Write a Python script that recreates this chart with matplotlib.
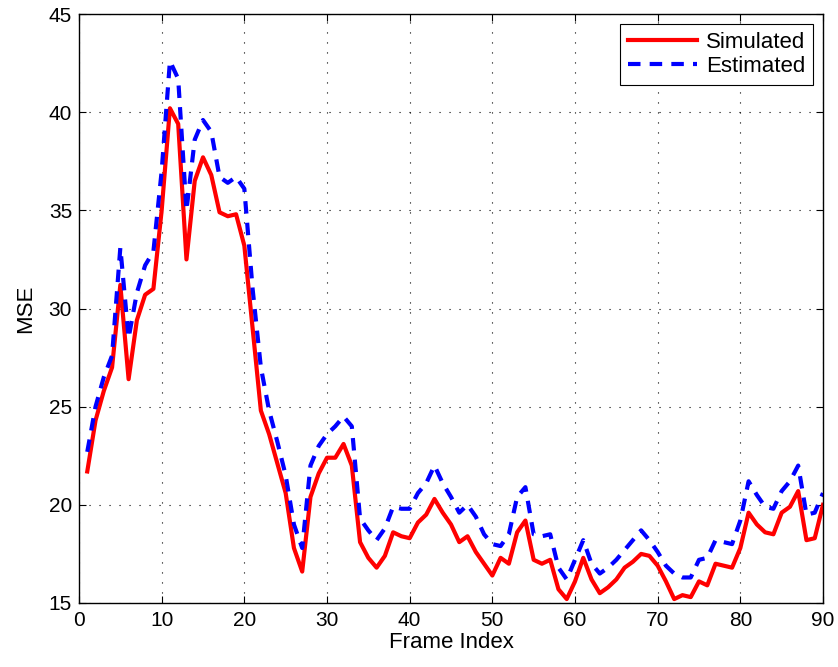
import numpy as np
import matplotlib
matplotlib.use("Agg")
import matplotlib.pyplot as plt

plt.rcParams['font.family'] = ['Liberation Sans', 'DejaVu Sans']

# frame indices
frames = np.arange(1, 91)

# simulated MSE per frame
simulated = [21.7, 24.3, 25.8, 27.0, 31.2, 26.4, 29.4, 30.7, 31.0, 35.0,
             40.2, 39.4, 32.5, 36.5, 37.7, 36.8, 34.9, 34.7, 34.8, 33.2,
             29.0, 24.8, 23.6, 22.1, 20.6, 17.8, 16.6, 20.4, 21.6, 22.4,
             22.4, 23.1, 22.0, 18.1, 17.3, 16.8, 17.4, 18.6, 18.4, 18.3,
             19.1, 19.5, 20.3, 19.6, 19.0, 18.1, 18.4, 17.6, 17.0, 16.4,
             17.3, 17.0, 18.6, 19.2, 17.2, 17.0, 17.2, 15.7, 15.2, 16.1,
             17.3, 16.2, 15.5, 15.8, 16.2, 16.8, 17.1, 17.5, 17.4, 16.9,
             16.1, 15.2, 15.4, 15.3, 16.1, 15.9, 17.0, 16.9, 16.8, 17.8,
             19.6, 19.0, 18.6, 18.5, 19.6, 19.9, 20.7, 18.2, 18.3, 20.0]

# estimated MSE per frame
estimated = [22.7, 25.0, 26.5, 27.6, 33.1, 28.5, 30.8, 32.2, 32.9, 37.0,
             42.6, 41.7, 35.0, 38.6, 39.6, 39.0, 36.7, 36.4, 36.7, 36.1,
             31.0, 27.0, 24.8, 23.2, 21.5, 19.0, 17.8, 22.0, 23.0, 23.6,
             24.0, 24.5, 24.0, 19.3, 18.7, 18.2, 18.8, 19.9, 19.8, 19.8,
             20.6, 21.1, 22.0, 21.1, 20.4, 19.6, 20.0, 19.4, 18.5, 18.0,
             17.9, 18.5, 20.4, 20.9, 18.5, 18.4, 18.5, 16.8, 16.2, 17.2,
             18.2, 17.0, 16.5, 16.8, 17.2, 17.7, 18.2, 18.7, 18.2, 17.6,
             16.9, 16.5, 16.3, 16.3, 17.2, 17.3, 18.2, 18.1, 18.0, 19.2,
             21.2, 20.5, 19.9, 19.8, 20.7, 21.2, 22.0, 19.5, 19.6, 20.6]

fig = plt.figure(figsize=(8.38, 6.67), dpi=100)
# axes box: x 79..823 px, y 14..603 px
ax = fig.add_axes([79 / 838, 1 - 603 / 667, 744 / 838, 589 / 667])

ax.plot(frames, simulated, color='red', lw=3, label='Simulated')
ax.plot(frames, estimated, color='blue', lw=3, ls=(0, (3, 2.2)), label='Estimated')

ax.set_xlim(0, 90)
ax.set_ylim(15, 45)
ax.set_xticks(np.arange(0, 91, 10))
ax.set_yticks(np.arange(15, 46, 5))
ax.tick_params(direction='in', length=5, labelsize=15, top=True, right=True)
ax.tick_params(axis='x', pad=6)
ax.tick_params(axis='y', pad=5)
ax.grid(True, color='black', ls=(0, (1, 8)), lw=0.8)
for s in ax.spines.values():
    s.set_linewidth(1)

ax.set_xlabel('Frame Index', fontsize=16, labelpad=1)
ax.set_ylabel('MSE', fontsize=16, labelpad=9)

leg = ax.legend(loc='upper right', fontsize=16, fancybox=False, framealpha=1,
                edgecolor='black', handlelength=3.1, handletextpad=0.4,
                borderaxespad=0.45, borderpad=0.35, labelspacing=0.15)
leg.get_frame().set_linewidth(0.8)

fig.savefig('out.png', dpi=100)
